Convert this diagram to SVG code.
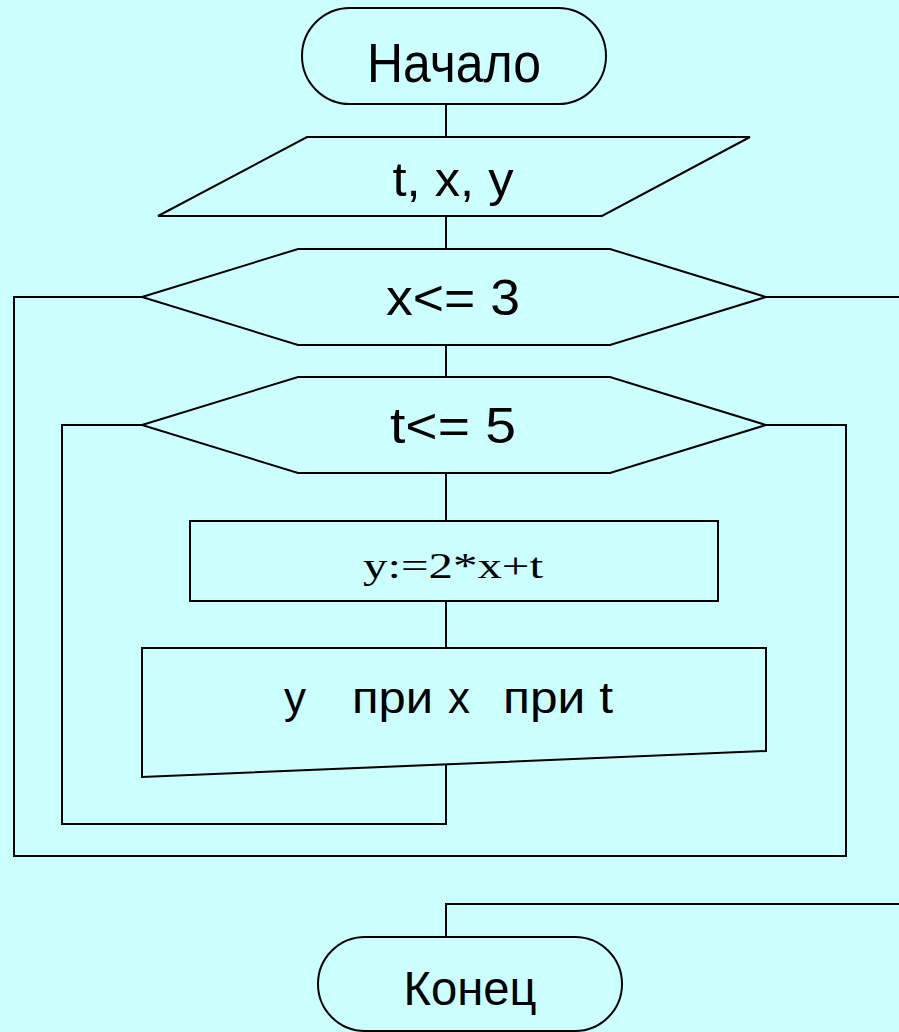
<svg xmlns="http://www.w3.org/2000/svg" width="899" height="1032" viewBox="0 0 899 1032">
  <style>
    .shape { fill: #CCFFFF; stroke: #000; stroke-width: 2; }
    .wire { fill: none; stroke: #000; stroke-width: 2; }
    .lbl { font-family: "Liberation Sans", Arial, sans-serif; fill: #000; text-anchor: middle; }
    .lbl-start { font-family: "Liberation Sans", Arial, sans-serif; fill: #000; }
    .formula { font-family: "Liberation Serif", "Times New Roman", serif; fill: #000; text-anchor: middle; }
  </style>
  <rect x="0" y="0" width="899" height="1032" fill="#CCFFFF"/>

  <!-- connectors -->
  <g id="connectors" class="wire">
    <line x1="446" y1="104" x2="446" y2="137"/>
    <line x1="446" y1="216" x2="446" y2="249"/>
    <line x1="446" y1="345" x2="446" y2="377"/>
    <line x1="446" y1="473" x2="446" y2="521"/>
    <line x1="446" y1="601" x2="446" y2="648"/>
    <!-- inner loop return -->
    <polyline points="446,762 446,824 62,824 62,425 142,425"/>
    <!-- inner loop exit / outer loop return -->
    <polyline points="766,425 846,425 846,856 14,856 14,297 142,297"/>
    <!-- outer loop exit -->
    <line x1="766" y1="297" x2="899" y2="297"/>
    <polyline points="899,904 446,904 446,937"/>
  </g>

  <g id="start">
    <rect class="shape" x="302" y="8" width="304" height="96" rx="48" ry="48"/>
    <text class="lbl" x="454" y="82" font-size="56" textLength="174" lengthAdjust="spacingAndGlyphs">Начало</text>
  </g>

  <g id="input">
    <polygon class="shape" points="307,137 750,137 602,216 158,216"/>
    <text class="lbl" x="453" y="196" font-size="48" textLength="121" lengthAdjust="spacingAndGlyphs">t, x, y</text>
  </g>

  <g id="cond-x">
    <polygon class="shape" points="142,297 298,249 610,249 766,297 610,345 298,345"/>
    <text class="lbl" x="453" y="315" font-size="50" textLength="134" lengthAdjust="spacingAndGlyphs">x&lt;= 3</text>
  </g>

  <g id="cond-t">
    <polygon class="shape" points="142,425 298,377 610,377 766,425 610,473 298,473"/>
    <text class="lbl" x="453" y="443" font-size="50" textLength="126" lengthAdjust="spacingAndGlyphs">t&lt;= 5</text>
  </g>

  <g id="calc">
    <rect class="shape" x="190" y="521" width="528" height="80"/>
    <text class="formula" x="453" y="578" font-size="36" textLength="180" lengthAdjust="spacingAndGlyphs">y:=2*x+t</text>
  </g>

  <g id="output">
    <polygon class="shape" points="142,648 766,648 766,751 142,777"/>
    <text class="lbl-start" font-size="44">
      <tspan x="284" y="713">y</tspan>
      <tspan x="352" y="713" textLength="81" lengthAdjust="spacingAndGlyphs">при</tspan>
      <tspan x="448" y="713">x</tspan>
      <tspan x="503" y="713" textLength="110" lengthAdjust="spacingAndGlyphs">при t</tspan>
    </text>
  </g>

  <g id="end">
    <rect class="shape" x="318" y="937" width="304" height="94" rx="47" ry="47"/>
    <text class="lbl" x="470" y="1005" font-size="48" textLength="133" lengthAdjust="spacingAndGlyphs">Конец</text>
  </g>
</svg>
